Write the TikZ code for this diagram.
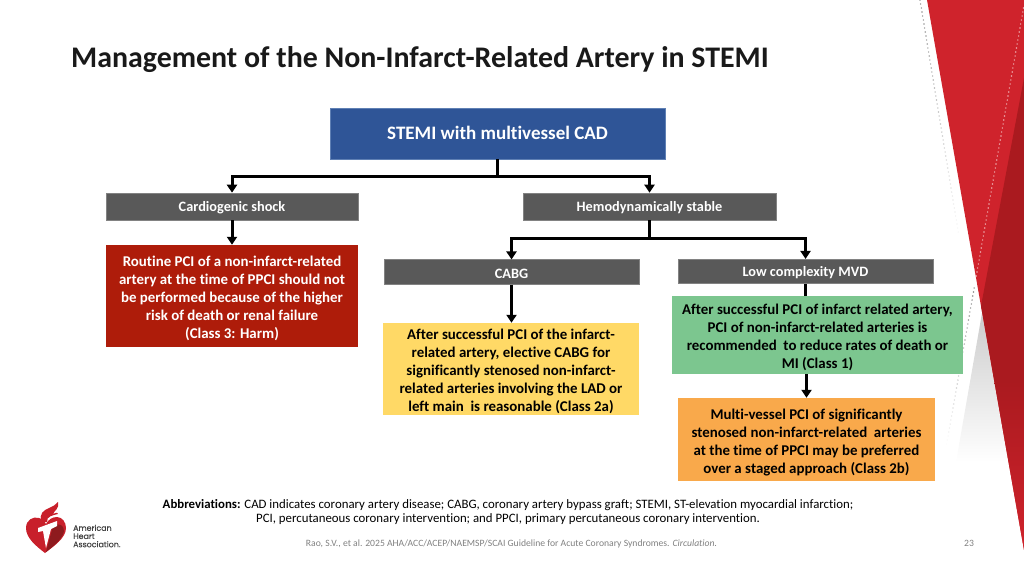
\documentclass[tikz,border=0pt]{standalone}
\usepackage{fontspec}
\setmainfont{Carlito}[Ligatures=NoCommon]
\newfontfamily\logofont{Poppins}[FakeBold=0.3]
\usetikzlibrary{arrows.meta}

\definecolor{stemiblue}{HTML}{2F5597}
\definecolor{stemiedge}{HTML}{5F80B4}
\definecolor{boxgray}{HTML}{595959}
\definecolor{harmred}{HTML}{AE1C0A}
\definecolor{classyellow}{HTML}{FFD966}
\definecolor{classgreen}{HTML}{7CC68F}
\definecolor{classorange}{HTML}{F9A94B}
\definecolor{slidered}{HTML}{CF232C}
\definecolor{slidedark}{HTML}{AA1A1F}
\definecolor{logored}{HTML}{C8202B}
\definecolor{logodark}{HTML}{8E1A1E}

\tikzset{
    flowbox/.style={inner sep=0pt, align=center, font=\fontsize{14.9}{18}\selectfont\bfseries, execute at begin node={\rule{0pt}{#1pt}}},
    headbox/.style={inner sep=0pt, align=center, fill=boxgray, draw=boxgray!75, line width=0.6pt, text=white, font=\fontsize{14.3}{16}\selectfont\bfseries, execute at begin node={\rule{0pt}{13pt}}},
    flowline/.style={line width=3pt, >={Triangle[width=10pt,length=8pt]}},
}

\begin{document}
\begin{tikzpicture}[x=1pt, y=-1pt]
    \useasboundingbox (0,0) rectangle (1024,576);

    \shade[top color=black!20, bottom color=white] (982,313)--(956,462)--(1008,462)--cycle;
    \fill[slidered] (927,0)--(1024,0)--(1024,550)--cycle;
    \fill[slidedark] (1024,78)--(981,306)--(994,380)--(1024,380)--cycle;
    \shade[top color=slidedark, bottom color=slidered] (994,380)--(1024,550)--(1024,380)--cycle;
    \foreach \t in {0,...,58}
        \fill[black!60, opacity={0.75*(1-\t/62)}] ({920+0.66*\t},{4*\t}) circle(0.8);
    \foreach \t in {0,...,69}
        \fill[white, opacity=0.6] ({1023.5-0.705*\t},{8+4*\t}) circle(0.8);
    \foreach \t in {70,...,109}
        \fill[black!60, opacity={0.8*(110-\t)/40}] ({1023.5-0.705*\t},{8+4*\t}) circle(0.8);

    \node[anchor=base west, inner sep=0pt, font=\fontsize{29.9}{34}\selectfont\bfseries, text=black!90] (title) at (71,67) {Management of the Non-Infarct-Related Artery in STEMI};

    \node[inner sep=0pt, fill=stemiblue, draw=stemiedge, line width=0.6pt, text=white, minimum width=335, minimum height=51, font=\fontsize{19}{22}\selectfont\bfseries, execute at begin node={\rule[-2pt]{0pt}{1pt}}] (stemi) at (497.5,133.5) {STEMI with multivessel CAD};
    \node[headbox, minimum width=252, minimum height=27] (shock) at (232,206.5) {Cardiogenic shock};
    \node[headbox, minimum width=253, minimum height=27] (stable) at (649.5,206.5) {Hemodynamically stable};
    \node[flowbox=88, fill=harmred, text=white, minimum width=252, minimum height=102] (harm) at (232,296) {Routine PCI of a non-infarct-related\\artery at the time of PPCI should not\\be performed because of the higher\\risk of death or renal failure\\(Class 3: Harm)};
    \node[headbox, minimum width=255, minimum height=24.5] (cabg) at (511.5,272) {CABG};
    \node[headbox, minimum width=255, minimum height=24.5] (lowmvd) at (805.5,271.5) {Low complexity MVD};
    \node[flowbox=88, fill=classyellow, minimum width=256, minimum height=92] (electcabg) at (511,369) {After successful PCI of the infarct-\\related artery, elective CABG for\\significantly stenosed non-infarct-\\related arteries involving the LAD or\\left main\ \ is reasonable (Class 2a)};
    \node[flowbox=70, fill=classgreen, minimum width=291, minimum height=78] (recpci) at (817.5,335) {After successful PCI of infarct related artery,\\PCI of non-infarct-related arteries is\\recommended\ \ to reduce rates of death or\\MI (Class 1)};
    \node[flowbox=70, fill=classorange, minimum width=257, minimum height=83] (multipci) at (806.5,439.5) {Multi-vessel PCI of significantly\\stenosed non-infarct-related\ \ arteries\\at the time of PPCI may be preferred\\over a staged approach (Class 2b)};

    \coordinate (stemisplit) at (stemi.south |- 0,176);
    \coordinate (stablesplit) at (stable.south |- 0,238);
    \draw[flowline](stemi.south)--(stemisplit);
    \draw[flowline, ->](stemisplit)-|(shock.north);
    \draw[flowline, ->](stemisplit)-|(stable.north);
    \draw[flowline, ->](shock.south)--(harm.north);
    \draw[flowline](stable.south)--(stablesplit);
    \draw[flowline, ->](stablesplit)-|(cabg.north);
    \draw[flowline, ->](stablesplit)-|(lowmvd.north);
    \draw[flowline, ->](cabg.south)--(electcabg.north -| cabg.south);
    \draw[flowline](lowmvd.south)--(lowmvd.south |- recpci.north);
    \draw[flowline, ->](recpci.south -| multipci.north)--(multipci.north);

    \node[align=center, font=\fontsize{12.83}{14}\selectfont] (abbrev) at (508,512) {\textbf{Abbreviations:} CAD indicates coronary artery disease; CABG, coronary artery bypass graft; STEMI, ST-elevation myocardial infarction;\\PCI, percutaneous coronary intervention; and PPCI, primary percutaneous coronary intervention.};
    \node[text=black!50, font=\fontsize{9.65}{11}\selectfont] (citation) at (511.5,543.5) {Rao, S.V., et al. 2025 AHA/ACC/ACEP/NAEMSP/SCAI Guideline for Acute Coronary Syndromes. \textit{Circulation.}};
    \node[text=black!50, font=\fontsize{9.65}{11}\selectfont] (pagenum) at (969,543.5) {23};

    \fill[logored] (45,553) .. controls (36,546) and (26,538) .. (26,528) .. controls (26,520) and (33,516) .. (39,518) .. controls (43,519) and (45,522) .. (46,524) .. controls (48,520) and (52,517) .. (57,517) .. controls (62,517) and (66,522) .. (66,528) .. controls (66,538) and (54,546) .. (45,553) -- cycle;
    \fill[logodark] (53,526) .. controls (60,522) and (64,526) .. (64,531) .. controls (63,538) and (55,545) .. (46,552) -- cycle;
    \fill[logored] (42,522) .. controls (38,514) and (44,510) .. (49,508) .. controls (53,506) and (56,505) .. (58,502) .. controls (60,508) and (54,511) .. (53,514) .. controls (57,512) and (58,513) .. (58,514) .. controls (54,515) and (46,516) .. (47,522) -- cycle;
    \fill[white] (38,528)--(57,521)--(57,526)--(51,529)--(46,548)--(43,531)--(38,532)--cycle;
    \node[anchor=west, inner sep=0pt, align=left, text=black!75, font=\fontsize{7.9}{8.2}\selectfont\logofont] (logotext) at (73,536) {American\\Heart\\Association.};
\end{tikzpicture}
\end{document}
